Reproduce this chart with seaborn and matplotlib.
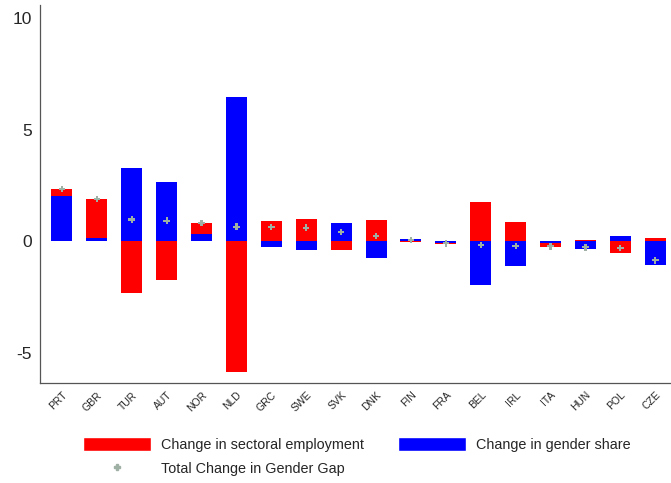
import matplotlib
matplotlib.use("Agg")
import matplotlib.pyplot as plt
import numpy as np
import pandas as pd
import seaborn as sns
from matplotlib.lines import Line2D
from matplotlib.patches import Patch

countries = ["PRT", "GBR", "TUR", "AUT", "NOR", "NLD", "GRC", "SWE", "SVK",
             "DNK", "FIN", "FRA", "BEL", "IRL", "ITA", "HUN", "POL", "CZE"]
sectoral = [0.30, 1.74, -2.33, -1.73, 0.47, -5.84, 0.90, 0.99, -0.39,
            0.95, -0.03, -0.05, 1.78, 0.88, -0.18, 0.07, -0.54, 0.16]
gender = [2.05, 0.15, 3.29, 2.64, 0.34, 6.49, -0.26, -0.38, 0.81,
          -0.74, 0.09, -0.06, -1.97, -1.10, -0.09, -0.34, 0.23, -1.04]
total = [2.35, 1.89, 0.98, 0.93, 0.83, 0.66, 0.65, 0.61, 0.41,
         0.23, 0.05, -0.09, -0.17, -0.21, -0.22, -0.27, -0.30, -0.85]

df = pd.DataFrame({"country": countries, "sectoral": sectoral,
                   "gender": gender, "total": total})
# red sits on top of blue when both move the same way
same_sign = np.sign(df["sectoral"]) == np.sign(df["gender"])
df["red_bottom"] = np.where(same_sign, df["gender"], 0.0)

sns.set_theme(style="white")
plt.rcParams["font.family"] = ["Liberation Sans", "DejaVu Sans"]

fig = plt.figure(figsize=(6.71, 4.83), dpi=100)
ax = fig.add_axes([0.06, 0.207, 0.94, 0.783])

sns.barplot(data=df, x="country", y="gender", color="#0000ff", width=0.6,
            saturation=1, ax=ax, errorbar=None, linewidth=0)
sns.barplot(data=df, x="country", y="sectoral", color="#ff0000", width=0.6,
            saturation=1, ax=ax, errorbar=None, linewidth=0,
            bottom=df["red_bottom"].to_numpy())
sns.scatterplot(data=df, x="country", y="total", marker="P", s=22,
                color="#9fb0a4", edgecolor="none", ax=ax, zorder=5)

ax.set_xlim(-0.62, 17.45)
ax.set_ylim(-6.35, 10.6)
ax.set_yticks([-5, 0, 5, 10])
ax.set_yticklabels(["-5", "0", "5", "10"], fontsize=12.5)
ax.set_xlabel("")
ax.set_ylabel("")
ax.tick_params(axis="y", length=4, width=0.8, color="#444444", pad=2)
ax.tick_params(axis="x", length=4, width=0.8, color="#444444", pad=1,
               labelsize=7.5, rotation=45)
for lab in ax.get_xticklabels():
    lab.set_ha("right")
    lab.set_rotation_mode("anchor")
for side in ["top", "right"]:
    ax.spines[side].set_visible(False)
for side in ["left", "bottom"]:
    ax.spines[side].set_color("#555555")
    ax.spines[side].set_linewidth(0.9)

handles = [
    Patch(facecolor="#ff0000", label="Change in sectoral employment"),
    Line2D([], [], marker="P", color="#9fb0a4", linestyle="none", markersize=4,
           label="Total Change in Gender Gap"),
    Patch(facecolor="#0000ff", label="Change in gender share"),
]
fig.legend(handles=handles, ncol=2, loc="lower left", bbox_to_anchor=(0.105, -0.012),
           frameon=False, fontsize=10.4, handlelength=4.7, handleheight=1.2,
           columnspacing=2.3, handletextpad=0.7, labelspacing=0.6)

fig.savefig("out.png", dpi=100)
